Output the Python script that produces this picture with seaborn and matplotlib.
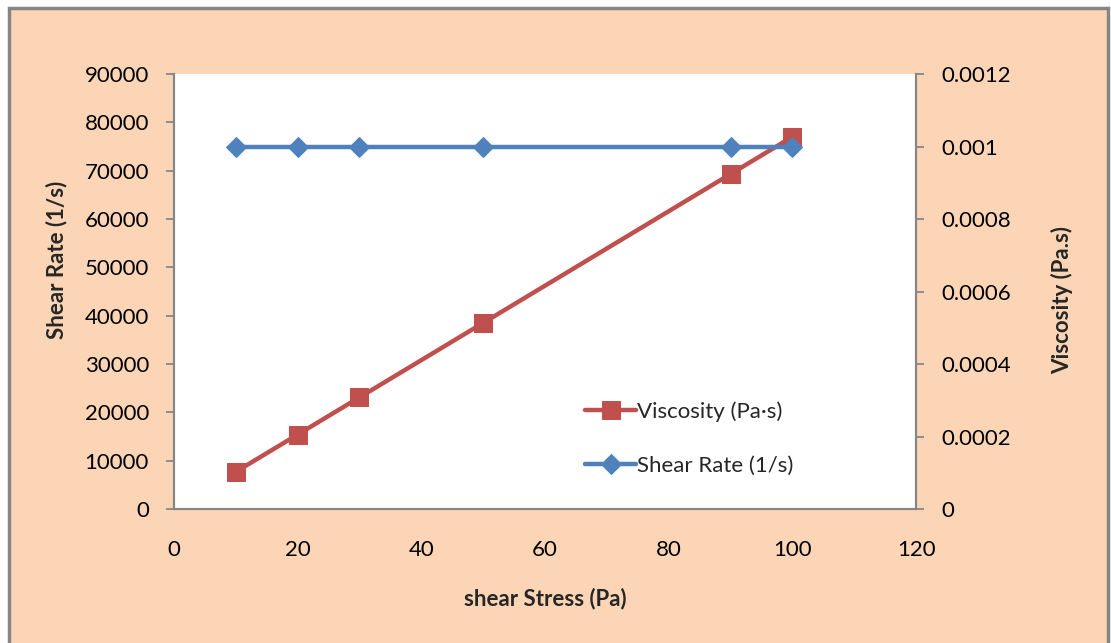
import matplotlib
matplotlib.use("Agg")
import matplotlib.pyplot as plt
from matplotlib.patches import Rectangle
import seaborn as sns
import pandas as pd

# Data
shear_stress = [10, 20, 30, 50, 90, 100]
viscosity_series = [7700, 15400, 23100, 38500, 69300, 77000]   # drawn on left axis
shear_rate_series = [0.001, 0.001, 0.001, 0.001, 0.001, 0.001]  # drawn on right axis
left_ticks = [0, 10000, 20000, 30000, 40000, 50000, 60000, 70000, 80000, 90000]
right_ticks = [0, 0.0002, 0.0004, 0.0006, 0.0008, 0.001, 0.0012]
right_tick_labels = ["0", "0.0002", "0.0004", "0.0006", "0.0008", "0.001", "0.0012"]
x_ticks = [0, 20, 40, 60, 80, 100, 120]

sns.set_theme(style="white")
plt.rcParams["font.family"] = ["Lato", "DejaVu Sans"]

RED = "#C0504D"
BLUE = "#4F81BD"
PEACH = "#FBD5B5"
GRAY = "#868686"
FS = 16

fig = plt.figure(figsize=(11.11, 6.43), dpi=100, facecolor="white")
fig.patches.append(Rectangle((0.0085, -0.01), 0.989, 0.998, transform=fig.transFigure,
                             facecolor=PEACH, edgecolor=GRAY, linewidth=2.5, zorder=-10))

ax = fig.add_axes([0.1566, 0.2084, 0.6679, 0.6765])
ax.set_facecolor("white")

df = pd.DataFrame({"x": shear_stress, "v": viscosity_series, "s": shear_rate_series})

sns.lineplot(data=df, x="x", y="v", ax=ax, color=RED, linewidth=3.2, marker="s",
             markersize=13, markeredgecolor=RED, label="Viscosity (Pa·s)", legend=False, zorder=3)

ax2 = ax.twinx()
sns.lineplot(data=df, x="x", y="s", ax=ax2, color=BLUE, linewidth=3.2, marker="D",
             markersize=10, markeredgecolor=BLUE, label="Shear Rate (1/s)", legend=False, zorder=3)

ax.set_xlim(0, 120)
ax.set_ylim(0, 90000)
ax2.set_ylim(0, 0.0012)
ax.set_xticks(x_ticks)
ax.set_xticklabels([str(t) for t in x_ticks])
ax.set_yticks(left_ticks)
ax.set_yticklabels([str(t) for t in left_ticks])
ax2.set_yticks(right_ticks)
ax2.set_yticklabels(right_tick_labels)

for a in (ax, ax2):
    a.spines["top"].set_visible(False)
    for side in ("left", "right", "bottom"):
        a.spines[side].set_color(GRAY)
        a.spines[side].set_linewidth(1.5)
    a.tick_params(colors=GRAY, labelcolor="black", labelsize=FS, length=6, width=1.3, direction="out")
ax.tick_params(axis="x", pad=16)
ax.tick_params(axis="y", pad=12)
ax2.tick_params(axis="y", pad=12)

ax.set_xlabel("shear Stress (Pa)", fontsize=FS, fontweight="bold", labelpad=20)
ax.set_ylabel("Shear Rate (1/s)", fontsize=FS, fontweight="bold", labelpad=12, y=0.572)
ax2.set_ylabel("Viscosity (Pa.s)", fontsize=FS, fontweight="bold", labelpad=29, y=0.48)

h1, l1 = ax.get_legend_handles_labels()
h2, l2 = ax2.get_legend_handles_labels()
ax2.legend(h1 + h2, l1 + l2, loc="lower left", bbox_to_anchor=(0.527, 0.031), frameon=False,
           fontsize=FS, handlelength=2.3, handletextpad=0.05, labelspacing=1.5)

fig.savefig("out.png", dpi=100, facecolor="white")
